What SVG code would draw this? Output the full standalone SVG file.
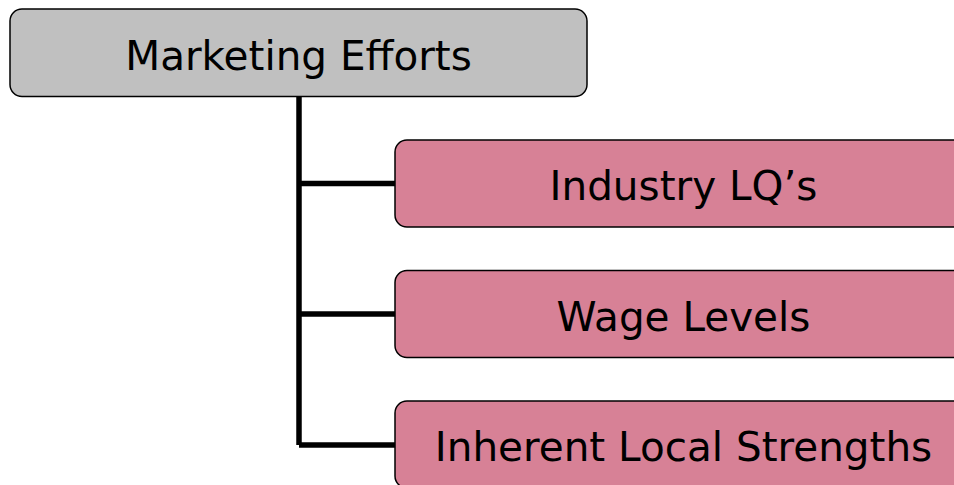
<svg xmlns="http://www.w3.org/2000/svg" width="954" height="485" viewBox="0 0 954 485">
<style>
.box{stroke:#000;stroke-width:1.5}
.top{fill:#c0c0c0}
.pink{fill:#d78196}
.lbl{font-family:"DejaVu Sans",Verdana,sans-serif;font-size:40.5px;fill:#000;text-anchor:middle}
.conn{stroke:#000;stroke-width:5.5;fill:none}
</style>
<rect width="954" height="485" fill="#fff"/>
<g id="connectors">
<path class="conn" d="M299,97 V445"/>
<path class="conn" d="M299,183.5 H395"/>
<path class="conn" d="M299,314 H395"/>
<path class="conn" d="M299,445 H395"/>
</g>
<g id="node-marketing">
<rect class="box top" x="10" y="9" width="577" height="87.5" rx="12"/>
<text class="lbl" x="298.5" y="69.5">Marketing Efforts</text>
</g>
<g id="node-industry">
<rect class="box pink" x="395" y="140" width="577" height="87" rx="12"/>
<text class="lbl" x="683.5" y="200">Industry LQ’s</text>
</g>
<g id="node-wage">
<rect class="box pink" x="395" y="270.5" width="577" height="87" rx="12"/>
<text class="lbl" x="683.5" y="330.5">Wage Levels</text>
</g>
<g id="node-inherent">
<rect class="box pink" x="395" y="401" width="577" height="87" rx="12"/>
<text class="lbl" x="683.5" y="461">Inherent Local Strengths</text>
</g>
</svg>
